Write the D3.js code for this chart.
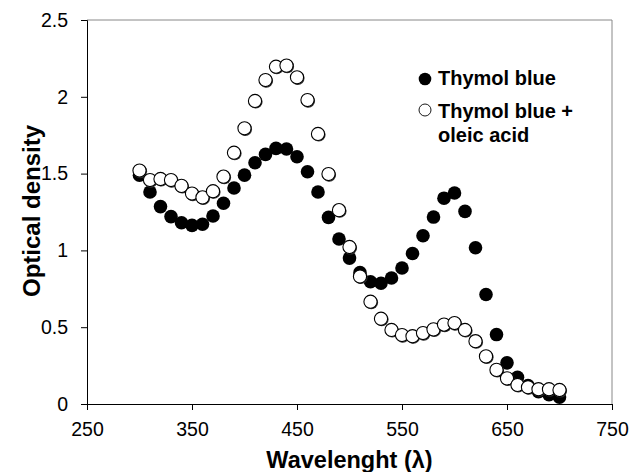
<!DOCTYPE html>
<html>
<head>
<meta charset="utf-8">
<title>Thymol blue spectrum</title>
<script src="https://d3js.org/d3.v7.min.js"></script>
<style>
  body { margin: 0; background: #fff; }
  svg { font-family: "Liberation Sans", Arial, sans-serif; }
</style>
</head>
<body>
<div id="chart"></div>
<script>
// wavelength (nm)
const wavelength = [300, 310, 320, 330, 340, 350, 360, 370, 380, 390,
                    400, 410, 420, 430, 440, 450, 460, 470, 480, 490,
                    500, 510, 520, 530, 540, 550, 560, 570, 580, 590,
                    600, 610, 620, 630, 640, 650, 660, 670, 680, 690, 700];
// optical density, Thymol blue
const thymol = [1.49, 1.38, 1.285, 1.22, 1.18, 1.163, 1.17, 1.224, 1.307, 1.406,
                1.49, 1.571, 1.625, 1.664, 1.66, 1.61, 1.512, 1.38, 1.215, 1.074,
                0.95, 0.855, 0.796, 0.786, 0.82, 0.885, 0.98, 1.095, 1.217, 1.34,
                1.374, 1.254, 1.017, 0.713, 0.452, 0.268, 0.174, 0.12, 0.08, 0.06, 0.045];
// optical density, Thymol blue + oleic acid
const oleic = [1.52, 1.458, 1.465, 1.458, 1.42, 1.37, 1.345, 1.385, 1.48, 1.636,
               1.795, 1.973, 2.109, 2.196, 2.203, 2.127, 1.979, 1.758, 1.497, 1.262,
               1.022, 0.83, 0.666, 0.555, 0.482, 0.449, 0.441, 0.462, 0.486, 0.517,
               0.527, 0.482, 0.409, 0.31, 0.222, 0.167, 0.124, 0.109, 0.096, 0.096, 0.091];
const xTicks = [250, 350, 450, 550, 650, 750];
const yTicks = [0, 0.5, 1, 1.5, 2, 2.5];
const seriesNames = ["Thymol blue", "Thymol blue +", "oleic acid"];

const W = 634, H = 472;
const svg = d3.select("#chart").append("svg")
    .attr("width", W).attr("height", H);

const x = d3.scaleLinear().domain([250, 750]).range([87, 612]);
const y = d3.scaleLinear().domain([0, 2.5]).range([404, 20]);

// frame (top + right, grey)
svg.append("line").attr("x1", x(250)).attr("x2", x(750))
    .attr("y1", y(2.5)).attr("y2", y(2.5)).attr("stroke", "#888");
svg.append("line").attr("x1", x(750)).attr("x2", x(750))
    .attr("y1", y(2.5)).attr("y2", y(0)).attr("stroke", "#888");

const xAxis = svg.append("g")
    .attr("transform", "translate(0," + y(0) + ")")
    .call(d3.axisBottom(x).tickValues(xTicks).tickSizeOuter(0).tickSize(6).tickPadding(12));
const yAxis = svg.append("g")
    .attr("transform", "translate(" + x(250) + ",0)")
    .call(d3.axisLeft(y).tickValues(yTicks).tickFormat(d3.format("")).tickSizeOuter(0).tickSize(6).tickPadding(13));

[xAxis, yAxis].forEach(function (g) {
    g.selectAll("text").style("font-size", "19.5px").attr("fill", "#000")
        .style("font-family", "'Liberation Sans', Arial, sans-serif");
    g.selectAll("line").attr("stroke", "#000");
    g.select(".domain").attr("stroke", "#000");
});

// points
const rows = wavelength.map(function (w, i) { return { w: w, a: thymol[i], b: oleic[i] }; });

svg.append("g").selectAll("circle").data(rows).enter().append("circle")
    .attr("cx", function (d) { return x(d.w); })
    .attr("cy", function (d) { return y(d.a); })
    .attr("r", 6.8).attr("fill", "#000");

svg.append("g").selectAll("circle").data(rows).enter().append("circle")
    .attr("cx", function (d) { return x(d.w) + 0.8; })
    .attr("cy", function (d) { return y(d.b) + 0.8; })
    .attr("r", 6.8).attr("fill", "#333");
svg.append("g").selectAll("circle").data(rows).enter().append("circle")
    .attr("cx", function (d) { return x(d.w); })
    .attr("cy", function (d) { return y(d.b); })
    .attr("r", 6.6).attr("fill", "#fff").attr("stroke", "#000").attr("stroke-width", 1.1);

// legend
const lg = svg.append("g").style("font-weight", "bold").style("font-size", "20px");
lg.append("circle").attr("cx", 425).attr("cy", 79).attr("r", 6.3).attr("fill", "#000");
lg.append("circle").attr("cx", 425).attr("cy", 110).attr("r", 6).attr("fill", "#fff")
    .attr("stroke", "#000").attr("stroke-width", 0.9);
lg.append("text").attr("x", 438).attr("y", 85).text(seriesNames[0]);
lg.append("text").attr("x", 438).attr("y", 118).text(seriesNames[1]);
lg.append("text").attr("x", 438).attr("y", 142).text(seriesNames[2]);

// axis titles
svg.append("text").attr("x", (x(250) + x(750)) / 2).attr("y", 468)
    .attr("text-anchor", "middle").style("font-weight", "bold").style("font-size", "23.5px")
    .text("Wavelenght (λ)");
svg.append("text").attr("transform", "translate(40,211) rotate(-90)")
    .attr("text-anchor", "middle").style("font-weight", "bold").style("font-size", "24px")
    .text("Optical density");
</script>
</body>
</html>
